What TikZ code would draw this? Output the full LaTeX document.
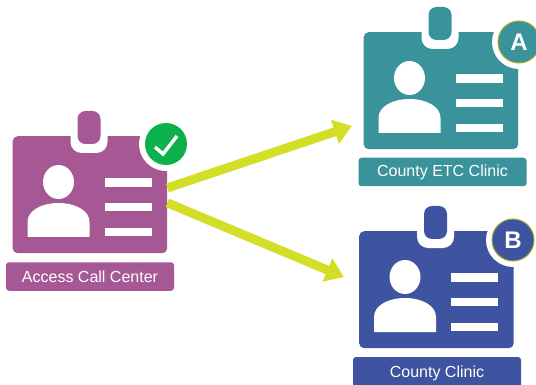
\documentclass[tikz,border=0pt]{standalone}
\usepackage{fontspec}
\setmainfont{Liberation Sans}
\usetikzlibrary{arrows.meta}
\definecolor{cpurple}{HTML}{A55894}
\definecolor{cteal}{HTML}{3A939B}
\definecolor{cblue}{HTML}{3F54A0}
\definecolor{cgreen}{HTML}{0DB14B}
\definecolor{clime}{HTML}{D5DE26}
\definecolor{colive}{HTML}{A8A828}
\tikzset{
  cardbody/.style={rectangle,rounded corners=5pt,minimum width=154.5pt,minimum height=117pt,inner sep=0pt,anchor=north west},
  caption/.style={rectangle,rounded corners=3pt,minimum width=168pt,minimum height=28.5pt,inner sep=0pt,text=white,font=\fontsize{16}{18}\selectfont},
  badge/.style={circle,minimum size=42pt,inner sep=0pt,text=white,font=\fontsize{24}{26}\selectfont\bfseries},
  halo/.style={circle,fill=white,minimum size=54pt,inner sep=0pt},
  flow/.style={draw=clime,line width=9pt,-{Triangle[length=18pt,width=24pt]}}
}
\newcommand{\idcard}[4]{%
  \node[cardbody,fill=#4] (#1) at (#2,#3) {};
  \begin{scope}[shift={(#2,#3)}]
    \fill[white,rounded corners=11pt] (58,-12) rectangle (95,17);
    \fill[#4,rounded corners=8pt] (65,-25) rectangle (88,8);
    \fill[white] (46,46) ellipse (15.5 and 17);
    \fill[white] (15,101) -- (15,86) .. controls (15,74) and (30,67) .. (46,67) .. controls (62,67) and (77,74) .. (77,86) -- (77,101) -- cycle;
    \fill[white] (92,42) rectangle (139,51);
    \fill[white] (92,67) rectangle (139,75);
    \fill[white] (92,92) rectangle (139,100);
  \end{scope}}
\begin{document}
\begin{tikzpicture}[x=1pt,y=-1pt]
\useasboundingbox (0,0) rectangle (536,385);
\clip (0,0) rectangle (536,385);
\fill[white] (0,0) rectangle (536,385);
\idcard{card1}{12.5}{136}{cpurple}
\idcard{cardA}{363.5}{32}{cteal}
\idcard{cardB}{359}{231}{cblue}
\node[halo] (halo1) at (166,144) {};
\node[badge,fill=cgreen] (check) at (166,144) {};
\draw[white,line width=3.4pt] (155,147) -- (163,154) -- (177,136);
\node[halo] (haloA) at (519,42) {};
\node[badge,fill=cteal,draw=colive,line width=1pt] (badgeA) at (519,42) {A};
\node[halo] (haloB) at (513,240) {};
\node[badge,fill=cblue,draw=colive,line width=1pt] (badgeB) at (513,240) {B};
\node[caption,fill=cpurple] (cap1) at (90,276.5) {Access Call Center};
\node[caption,fill=cteal] (capA) at (442.5,172) {County ETC Clinic};
\node[caption,fill=cblue,minimum height=32pt] (capB) at (437,373) {County Clinic};
\coordinate (tipA) at (352,126);
\coordinate (tipB) at (344,277);
\draw[flow] (card1.5.5) -- (tipA);
\draw[flow] (card1.-6.3) -- (tipB);
\end{tikzpicture}
\end{document}
